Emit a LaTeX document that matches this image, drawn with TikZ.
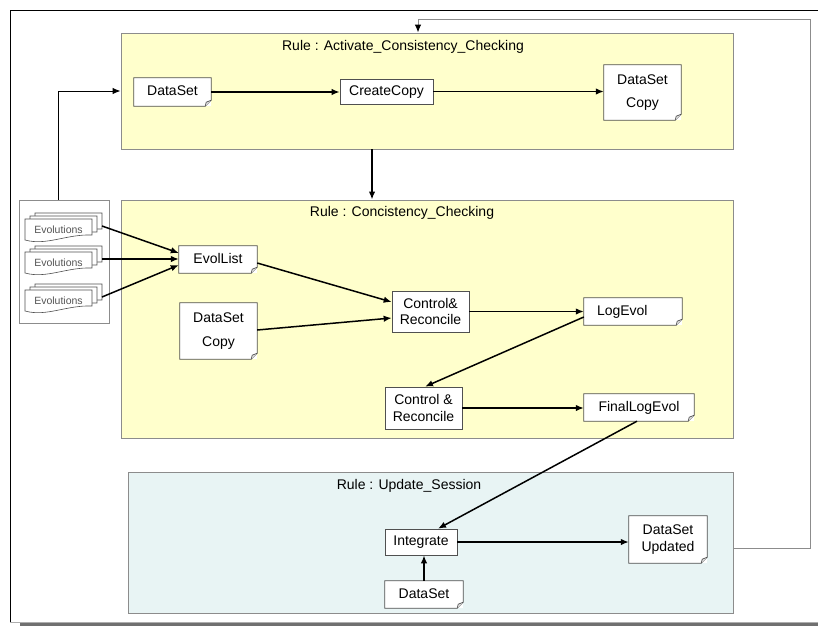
\documentclass[tikz,border=0pt]{standalone}
\usepackage{fontspec}
\setmainfont{Liberation Sans}
\usetikzlibrary{arrows.meta,calc}
\definecolor{ruleyellow}{HTML}{FFFFCC}
\definecolor{rulecyan}{HTML}{E8F4F4}
\definecolor{boxgray}{HTML}{8C8C8C}
\definecolor{nodegray}{HTML}{505050}
\definecolor{evtext}{HTML}{555555}
\definecolor{shadowgray}{HTML}{707070}
\tikzset{
  x=1pt, y=-1pt,
  mainfont/.style={font=\fontsize{14}{16.5}\selectfont},
  oneline/.style={text height=10pt, text depth=3pt},
  rulebox/.style={draw=boxgray, line width=0.9pt, inner sep=0pt},
  ruletitle/.style={mainfont, inner sep=0pt},
  proc/.style={draw=nodegray, fill=white, line width=0.7pt, inner sep=2pt, align=center, mainfont},
  docnode/.style={fill=white, inner sep=2pt, align=center, mainfont},
  docline/.style={draw=nodegray, line width=0.7pt},
  evline/.style={draw=nodegray, line width=0.6pt, fill=white},
  evnode/.style={inner sep=0pt, font=\fontsize{10.5}{12}\selectfont, text=evtext},
  conn/.style={line width=1.5pt, -{Latex[length=8pt,width=6.5pt]}},
  thinconn/.style={line width=1pt, -{Latex[length=8pt,width=6.5pt]}},
  loopconn/.style={draw=boxgray, line width=1pt, -{Latex[length=8pt,width=6.5pt,color=black]}},
}
\newcommand\docfold[1]{%
  \draw[docline] (#1.north west) -- (#1.north east) -- ([yshift=6pt]#1.south east)
    -- ([xshift=-6pt]#1.south east) -- (#1.south west) -- cycle;
  \draw[docline, fill=gray!25] ([yshift=6pt]#1.south east) -- ([xshift=-5pt,yshift=4pt]#1.south east)
    -- ([xshift=-6pt]#1.south east);}
\newcommand\evpage[2]{%
  \draw[evline] (#1-33.5,#2-11) -- (#1+33.5,#2-11) -- (#1+33.5,#2+5)
    .. controls (#1+8,#2+4) and (#1-12,#2+16) .. (#1-33.5,#2+10) -- cycle;}
\newcommand\evstack[3]{%
  \evpage{#2+10}{#3-6}\evpage{#2+5}{#3-3}\evpage{#2}{#3}%
  \node[evnode] (#1) at (#2,#3) {Evolutions};}
\begin{document}
\begin{tikzpicture}
\useasboundingbox (0,0) rectangle (818,626);
% outer frame
\draw[black, line width=1pt] (818,11) -- (10,11) -- (10,622);
\draw[boxgray!70, line width=0.8pt] (10,622) -- (818,622);
\fill[shadowgray] (20,623) rectangle (818,626);

% rule boxes
\node[rulebox, fill=ruleyellow, minimum width=612, minimum height=116] (box1) at (427,91) {};
\node[ruletitle] (t1) at (403,47) {Rule : Activate\_Consistency\_Checking};
\node[rulebox, fill=ruleyellow, minimum width=612, minimum height=238] (box2) at (427,319) {};
\node[ruletitle] (t2) at (402,213) {Rule : Concistency\_Checking};
\node[rulebox, fill=rulecyan, minimum width=605, minimum height=141] (box3) at (430.5,542.5) {};
\node[ruletitle] (t3) at (409,486) {Rule : Update\_Session};

% evolutions group
\node[rulebox, fill=white, line width=0.7pt, minimum width=90, minimum height=123] (evg) at (64,261.5) {};
\evstack{ev1}{58.5}{230}
\evstack{ev2}{58.5}{263}
\evstack{ev3}{58.5}{301}
\coordinate (ev1o) at (102,226);
\coordinate (ev2o) at (102,259);
\coordinate (ev3o) at (102,297);

% box 1 contents
\node[docnode, oneline, minimum width=77, minimum height=28] (ds1) at (172.5,92) {DataSet};
\docfold{ds1}
\node[proc, oneline, minimum width=93, minimum height=25] (cc) at (386.5,91.5) {CreateCopy};
\node[docnode, minimum width=77, minimum height=55] (dsc1) at (642.5,92.5) {DataSet\\[7pt]Copy};
\docfold{dsc1}

% box 2 contents
\node[docnode, oneline, minimum width=78, minimum height=27] (el) at (218,259.5) {EvolList};
\docfold{el}
\node[docnode, minimum width=77, minimum height=56] (dsc2) at (218.5,331) {DataSet\\[7pt]Copy};
\docfold{dsc2}
\node[proc, minimum width=77, minimum height=41] (cr1) at (430.5,311.5) {Control\&\\Reconcile};
\node[docnode, oneline, minimum width=98, minimum height=27, text width=72, align=left] (le) at (633,311.5) {LogEvol};
\docfold{le}
\node[proc, minimum width=77, minimum height=42] (cr2) at (423.5,408) {Control \&\\Reconcile};
\node[docnode, oneline, minimum width=110, minimum height=27] (fle) at (639,407.5) {FinalLogEvol};
\docfold{fle}

% box 3 contents
\node[proc, oneline, minimum width=72, minimum height=26] (integ) at (421,542) {Integrate};
\node[docnode, oneline, minimum width=78, minimum height=27] (ds3) at (424,594.5) {DataSet};
\docfold{ds3}
\node[docnode, minimum width=78, minimum height=47] (dsu) at (668,539.5) {DataSet\\Updated};
\docfold{dsu}

% connectors
\draw[thinconn] ([xshift=-6pt]evg.north) |- (box1.west);
\draw[loopconn] ([yshift=-5.5pt]box3.east) -- (810,548) -- (810,20) -| ([xshift=-9pt]box1.north);
\draw[conn] (ds1.east) -- (ds1.east -| cc.west);
\draw[conn] (cc.east) -- (cc.east -| dsc1.west);
\draw[conn] ([xshift=-55pt]box1.south) -- ([xshift=-55pt]box2.north);
\draw[conn] (ev1o) -- ([yshift=6.5pt]el.west);
\draw[conn] (ev2o) -- (ev2o -| el.west);
\draw[conn] (ev3o) -- ([yshift=-5.5pt]el.west);
\draw[conn] ([yshift=-3.5pt]el.east) -- ([yshift=9.5pt]cr1.west);
\draw[conn] ([yshift=1pt]dsc2.east) -- ([yshift=-6.5pt]cr1.west);
\draw[conn] (cr1.east) -- (cr1.east -| le.west);
\draw[conn] ([yshift=-5.5pt]le.west) -- ([xshift=1.5pt]cr2.north);
\draw[conn] (cr2.east) -- (cr2.east -| fle.west);
\draw[conn] ([xshift=-2pt]fle.south) -- ([xshift=17pt]integ.north);
\draw[conn] (ds3.north) -- (ds3.north |- integ.south);
\draw[conn] (integ.east) -- (integ.east -| dsu.west);
\end{tikzpicture}
\end{document}
